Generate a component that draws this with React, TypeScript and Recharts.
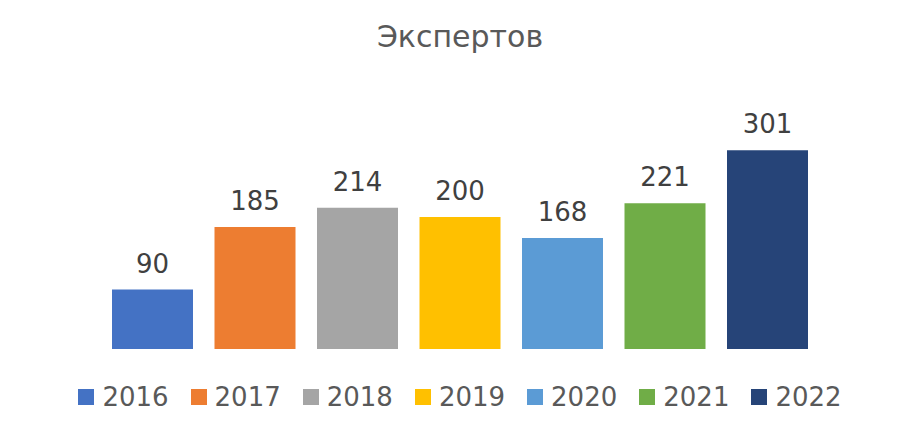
import { BarChart, Bar, XAxis, YAxis, LabelList, Legend } from 'recharts';

const years = ['2016', '2017', '2018', '2019', '2020', '2021', '2022'];
const experts = [90, 185, 214, 200, 168, 221, 301];
const colors = ['#4472C4', '#ED7D31', '#A5A5A5', '#FFC000', '#5B9BD5', '#70AD47', '#264478'];

const row: Record<string, string | number> = { name: 'Экспертов' };
years.forEach((y, i) => {
  row[y] = experts[i];
});
const data = [row];

const FONT = '"DejaVu Sans", Tahoma, Verdana, sans-serif';

function YearLegend() {
  return (
    <div
      style={{
        display: 'flex',
        justifyContent: 'center',
        alignItems: 'center',
        height: 30,
        gap: 22,
        fontFamily: FONT,
        fontSize: 26,
        color: '#595959',
      }}
    >
      {years.map((y, i) => (
        <div key={y} style={{ display: 'flex', alignItems: 'center' }}>
          <div style={{ width: 16, height: 16, background: colors[i], marginRight: 8 }} />
          <span>{y}</span>
        </div>
      ))}
    </div>
  );
}

export default function App() {
  return (
    <div style={{ position: 'absolute', left: 0, top: 0, width: 920, height: 432, background: '#fff' }}>
      <div
        style={{
          position: 'absolute',
          top: 19,
          left: 0,
          width: 920,
          textAlign: 'center',
          fontFamily: FONT,
          fontSize: 30,
          lineHeight: '35px',
          color: '#595959',
        }}
      >
        Экспертов
      </div>
      <BarChart
        width={920}
        height={432}
        data={data}
        margin={{ top: 118, right: 0, bottom: 83, left: 0 }}
        barSize={81}
        barGap={21.5}
      >
        <XAxis dataKey="name" hide />
        <YAxis hide domain={[0, 350]} />
        <Legend
          layout="horizontal"
          verticalAlign="middle"
          align="center"
          content={() => <YearLegend />}
          wrapperStyle={{ top: 382, left: 0, width: 920, bottom: 'auto' }}
        />
        {years.map((y, i) => (
          <Bar key={y} dataKey={y} fill={colors[i]} isAnimationActive={false}>
            <LabelList
              dataKey={y}
              position="top"
              offset={17}
              fill="#404040"
              style={{ fontFamily: FONT, fontSize: 26 }}
            />
          </Bar>
        ))}
      </BarChart>
    </div>
  );
}
